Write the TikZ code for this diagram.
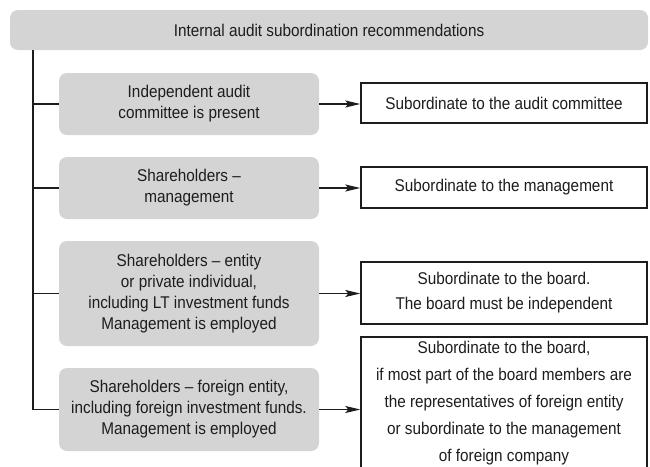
\documentclass[tikz,border=0pt]{standalone}
\usepackage{fontspec}
\setmainfont{Liberation Sans}[FakeStretch=0.9]
\usetikzlibrary{arrows.meta}
\definecolor{boxgray}{RGB}{212,212,212}
\definecolor{ink}{RGB}{30,28,28}
\tikzset{
  graybox/.style={fill=boxgray, rounded corners=8pt, inner sep=0pt, align=center, text=ink,
    font={\fontsize{17}{21}\selectfont}},
  whitebox/.style={draw=ink, line width=1.4pt, fill=white, inner sep=0pt, align=center, text=ink,
    minimum width=286pt, font={\fontsize{17}{21}\selectfont}},
  conn/.style={draw=ink, line width=1.3pt},
  arr/.style={conn, -{Stealth[length=15pt,width=7pt,inset=3pt]}}
}
\begin{document}
\begin{tikzpicture}[x=1pt,y=-1pt]
\path[use as bounding box, clip] (0,0) rectangle (650,466);
\node[graybox, minimum width=638pt, minimum height=40pt] (top) at (329,30) {Internal audit subordination recommendations};
\node[graybox, minimum width=260pt, minimum height=62pt] (L1) at (189,104) {Independent audit\\committee is present};
\node[graybox, minimum width=260pt, minimum height=62pt] (L2) at (189,188) {Shareholders --\\management};
\node[graybox, minimum width=260pt, minimum height=105pt] (L3) at (189,293.5) {Shareholders -- entity\\or private individual,\\including LT investment funds\\Management is employed};
\node[graybox, minimum width=260pt, minimum height=83pt] (L4) at (189,409.5) {Shareholders -- foreign entity,\\including foreign investment funds.\\Management is employed};
\node[whitebox, minimum height=40pt] (R1) at (504,103) {Subordinate to the audit committee};
\node[whitebox, minimum height=41pt] (R2) at (504,187.5) {Subordinate to the management};
\node[whitebox, minimum height=62pt, font={\fontsize{17}{25}\selectfont}] (R3) at (504,293) {Subordinate to the board.\\The board must be independent};
\node[whitebox, minimum height=132pt, font={\fontsize{17}{27}\selectfont}] (R4) at (504,403) {Subordinate to the board,\\if most part of the board members are\\the representatives of foreign entity\\or subordinate to the management\\of foreign company};
\coordinate (t0) at (33,50);
\draw[conn] (t0) |- (L4.west);
\draw[conn] (L1.west -| t0) -- (L1.west);
\draw[conn] (L2.west -| t0) -- (L2.west);
\draw[conn] (L3.west -| t0) -- (L3.west);
\draw[arr] (L1.east) -- (L1.east -| R1.west);
\draw[arr] (L2.east) -- (L2.east -| R2.west);
\draw[arr] (L3.east) -- (L3.east -| R3.west);
\draw[arr] (L4.east) -- (L4.east -| R4.west);
\end{tikzpicture}
\end{document}
